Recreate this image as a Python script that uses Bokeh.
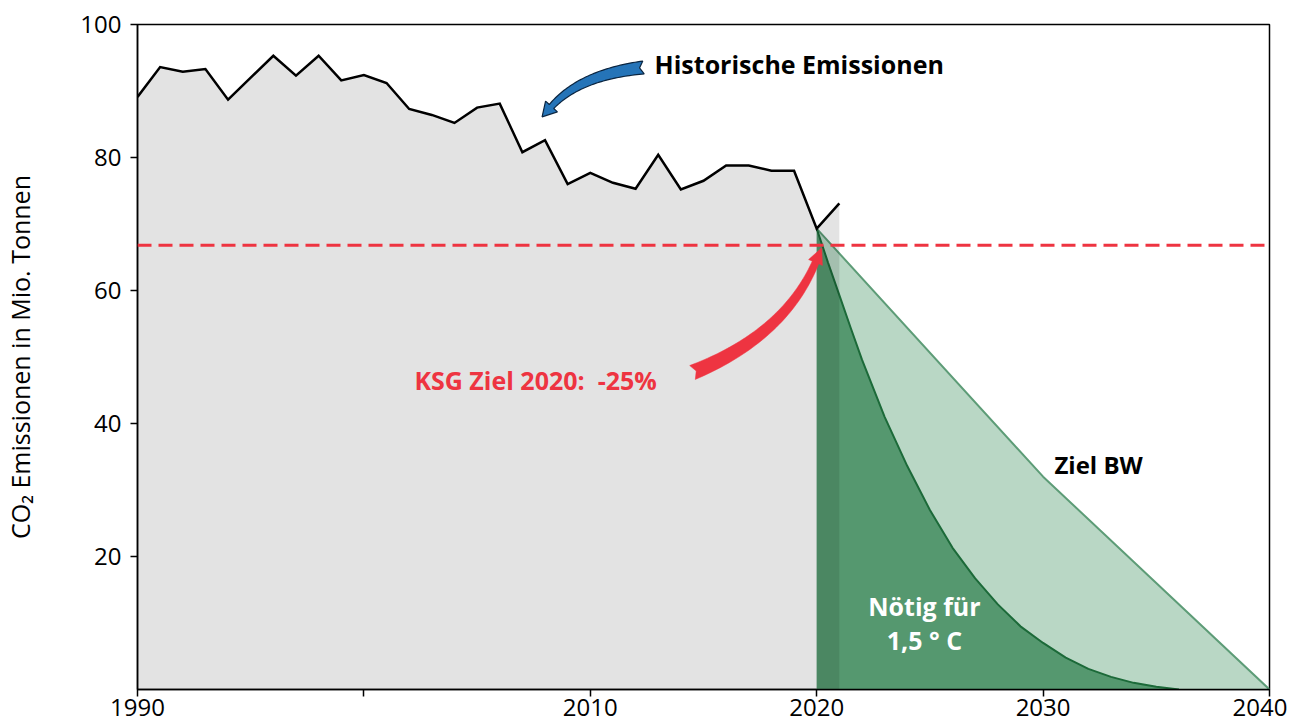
import numpy as np
from bokeh.plotting import figure
from bokeh.models import Range1d, FixedTicker, Span, Label
from bokeh.embed import file_html
from bokeh.resources import INLINE

# ---------------- data ----------------
hist_years = list(range(1990, 2022))
hist_values = [89.1, 93.6, 92.9, 93.3, 88.7, 92.0, 95.3, 92.3, 95.3, 91.6,
               92.4, 91.2, 87.3, 86.4, 85.2, 87.5, 88.1, 80.8, 82.6, 76.0,
               77.7, 76.2, 75.3, 80.4, 75.2, 76.5, 78.8, 78.8, 78.0, 78.0,
               69.3, 73.1]

bw_years = [2020, 2030, 2040]
bw_values = [69.3, 32.0, 0.0]

p15_years = [2020, 2020.5, 2021, 2021.5, 2022, 2023, 2024, 2025, 2026, 2027,
             2028, 2029, 2030, 2031, 2032, 2033, 2034, 2035, 2036]
p15_values = [69.3, 64.2, 59.3, 54.4, 49.6, 41.0, 33.6, 27.0, 21.3, 16.7,
              12.8, 9.5, 7.0, 4.8, 3.1, 1.9, 1.0, 0.4, 0.0]

ksg_target = 66.8

x_ticks = [1990, 2000, 2010, 2020, 2030, 2040]
x_tick_labels = ["1990", "", "2010", "2020", "2030", "2040"]
y_ticks = [20, 40, 60, 80, 100]

FONT = "Open Sans"
RED = "#ee3441"

# ---------------- figure ----------------
p = figure(frame_width=1132, frame_height=665,
           x_range=Range1d(1990, 2040), y_range=Range1d(0, 100),
           output_backend="svg", toolbar_location=None,
           min_border_left=135, min_border_right=18,
           min_border_top=24, min_border_bottom=36)
p.xgrid.visible = False
p.ygrid.visible = False
p.outline_line_color = "black"
p.outline_line_width = 1.5
p.background_fill_color = "white"
p.border_fill_color = "white"

for ax in (p.xaxis[0], p.yaxis[0]):
    ax.axis_line_color = "black"
    ax.axis_line_width = 1.5
    ax.major_tick_line_color = "black"
    ax.major_tick_line_width = 1.5
    ax.major_tick_out = 7
    ax.major_tick_in = 0
    ax.minor_tick_line_color = None
    ax.major_label_text_font = FONT
    ax.major_label_text_font_size = "24px"
    ax.major_label_text_color = "black"

p.xaxis.ticker = FixedTicker(ticks=x_ticks)
p.xaxis.major_label_overrides = {t: l for t, l in zip(x_ticks, x_tick_labels)}
p.xaxis.major_label_standoff = 2
p.yaxis.ticker = FixedTicker(ticks=y_ticks)
p.yaxis.major_label_standoff = 9
p.yaxis.axis_label = "CO\u2082 Emissionen in Mio. Tonnen"
p.yaxis.axis_label_text_font = FONT
p.yaxis.axis_label_text_font_size = "25px"
p.yaxis.axis_label_text_font_style = "normal"
p.yaxis.axis_label_text_color = "black"
p.yaxis.axis_label_standoff = 40

# ---------------- areas ----------------
p.varea(x=bw_years, y1=0, y2=bw_values, fill_color="#b9d7c5")
p.line(bw_years, bw_values, line_color="#5d9c77", line_width=2)
p.varea(x=p15_years, y1=0, y2=p15_values, fill_color="#55986f")
p.line(p15_years, p15_values, line_color="#1c6a39", line_width=2)

p.varea(x=hist_years, y1=0, y2=hist_values, fill_color="black", fill_alpha=0.11)
p.line(hist_years, hist_values, line_color="black", line_width=2.5,
       line_join="miter")

p.add_layout(Span(location=ksg_target, dimension="width", line_color=RED,
                  line_width=3, line_dash="14 7"))


# ---------------- curved arrows ----------------
def px_to_data(pts):
    pts = np.asarray(pts)
    xs = 1990 + (pts[:, 0] - 135) / 22.64
    ys = (689 - pts[:, 1]) / 6.65
    return list(xs), list(ys)


def fancy_arrow(p0, p1, p2, w0, w1, hl, hw, notch, n=50):
    P0, P1, P2 = (np.array(v, dtype=float) for v in (p0, p1, p2))
    t = np.linspace(0, 1, n)
    B = ((1 - t) ** 2)[:, None] * P0 + (2 * (1 - t) * t)[:, None] * P1 + (t ** 2)[:, None] * P2
    D = (2 * (1 - t))[:, None] * (P1 - P0) + (2 * t)[:, None] * (P2 - P1)
    D = D / np.linalg.norm(D, axis=1)[:, None]
    N = np.stack([-D[:, 1], D[:, 0]], axis=1)
    w = w0 + (w1 - w0) * t
    L = B + N * (w / 2)[:, None]
    R = B - N * (w / 2)[:, None]
    tip = P2 + D[-1] * hl
    hL = P2 + N[-1] * hw / 2
    hR = P2 - N[-1] * hw / 2
    nt = P0 + D[0] * notch
    pts = [nt] + list(L) + [hL, tip, hR] + list(R[::-1])
    return px_to_data(pts)


bx, by = fancy_arrow((641, 67), (578, 74), (549, 106), 13, 6, 14, 16, 4)
p.patch(bx, by, fill_color="#2574b8", line_color="#0b2540", line_width=1.2)

rx, ry = fancy_arrow((690, 372), (782, 335), (813, 262), 15, 7, 16, 15, 4)
p.patch(rx, ry, fill_color=RED, line_color=RED, line_width=0.5)


# ---------------- texts ----------------
def add_label(x, y, text, color="black", align="left", size="25px"):
    p.add_layout(Label(x=x, y=y, text=text, text_font=FONT,
                       text_font_size=size, text_font_style="bold",
                       text_color=color, text_align=align,
                       text_baseline="middle"))


add_label(2012.84, 94.1, "Historische Emissionen")
add_label(2002.23, 46.5, "KSG Ziel 2020:\u00a0 -25%", color=RED)
add_label(2030.5, 33.8, "Ziel BW", size="24px")
add_label(2024.76, 12.6, "Nötig für", color="white", align="center")
add_label(2024.76, 7.4, "1,5 ° C", color="white", align="center")

open("out.html", "w").write(file_html(p, INLINE))
